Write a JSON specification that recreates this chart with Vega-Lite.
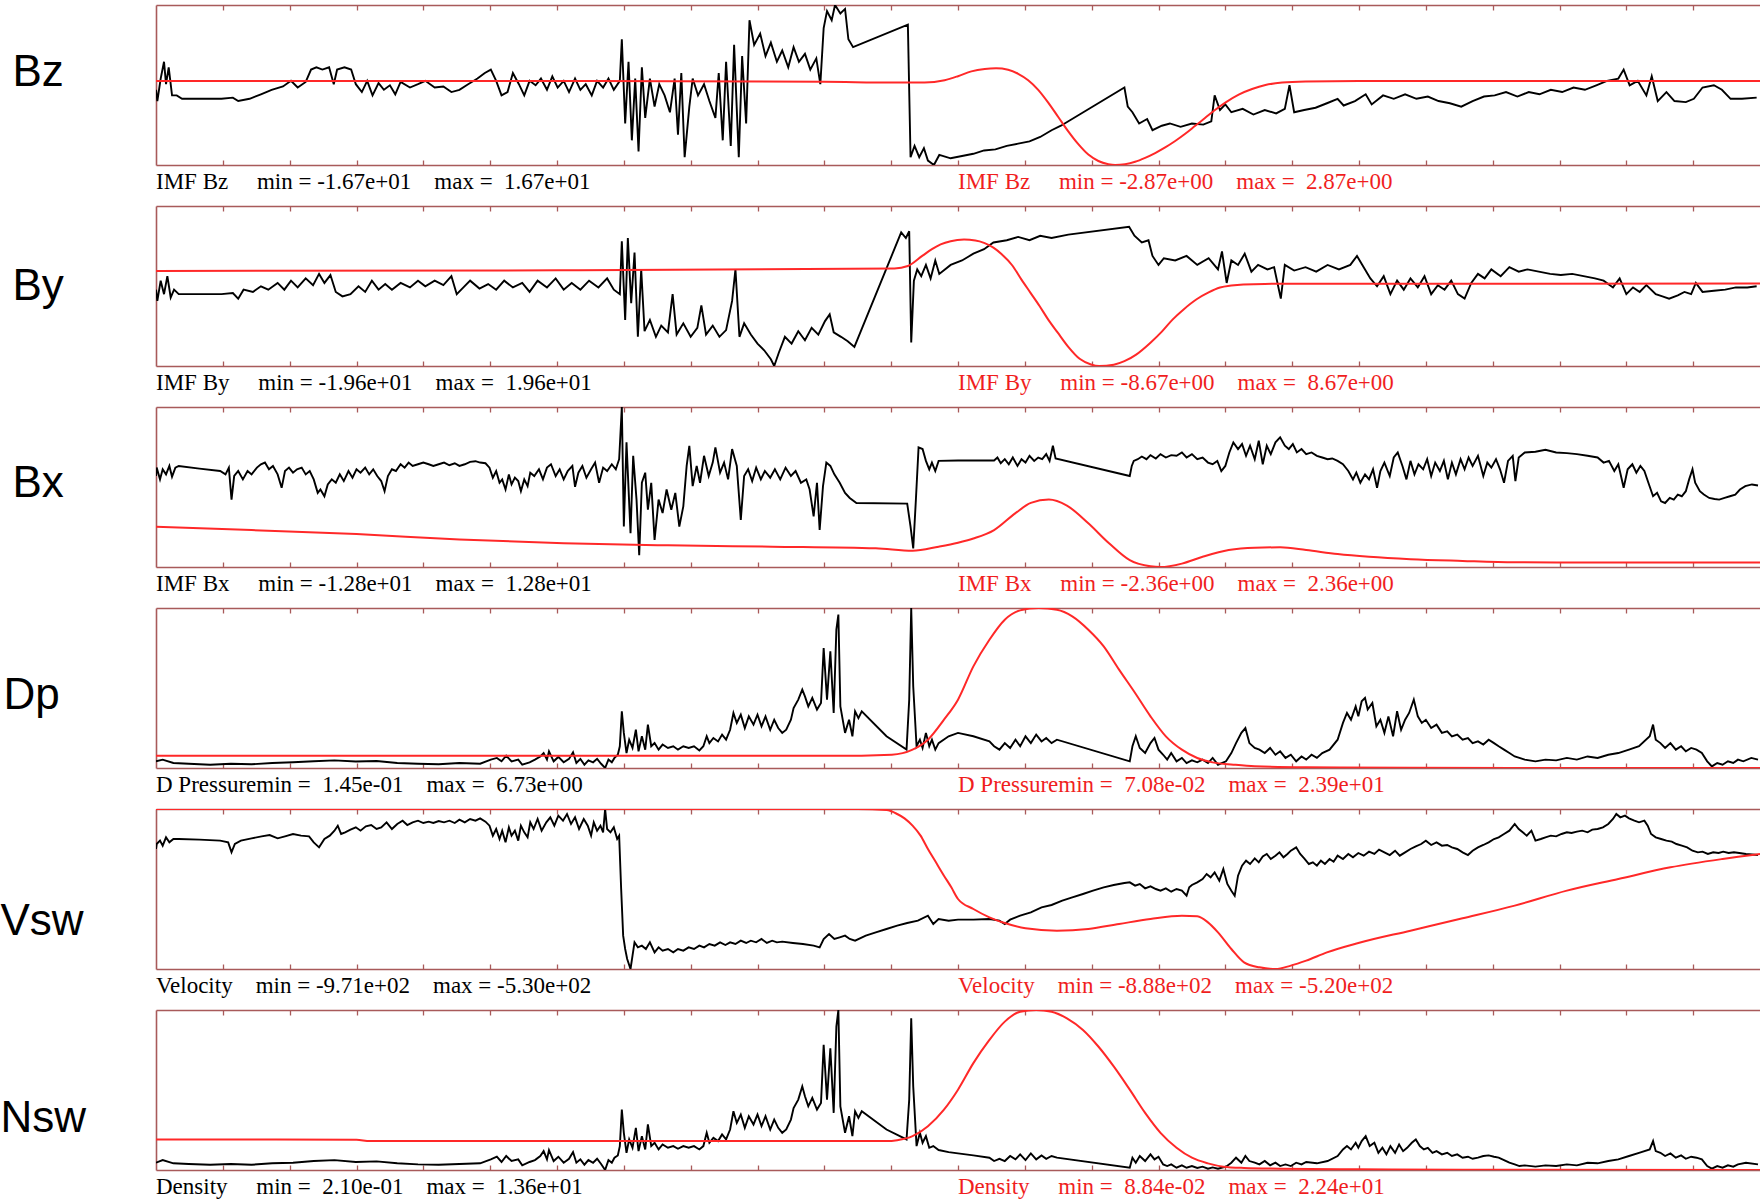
{
  "$schema": "https://vega.github.io/schema/vega-lite/v6.json",
  "background": "white",
  "padding": {"left": 0, "top": 4, "right": 0, "bottom": 0},
  "config": {
    "view": {"stroke": null},
    "axis": {
      "grid": false,
      "labels": false,
      "title": null,
      "domainColor": "#a85a5a",
      "domainWidth": 1.6,
      "tickColor": "#a85a5a",
      "tickWidth": 1.3,
      "tickSize": -5
    }
  },
  "datasets": {
    "captions": [
      {"panel":"Bz","series":"observed","hour":0,"label":"IMF Bz\u00a0\u00a0\u00a0\u00a0\u00a0min\u00a0=\u00a0-1.67e+01\u00a0\u00a0\u00a0\u00a0max\u00a0=\u00a0\u00a01.67e+01"},
      {"panel":"Bz","series":"model","hour":12,"label":"IMF Bz\u00a0\u00a0\u00a0\u00a0\u00a0min\u00a0=\u00a0-2.87e+00\u00a0\u00a0\u00a0\u00a0max\u00a0=\u00a0\u00a02.87e+00"},
      {"panel":"By","series":"observed","hour":0,"label":"IMF By\u00a0\u00a0\u00a0\u00a0\u00a0min\u00a0=\u00a0-1.96e+01\u00a0\u00a0\u00a0\u00a0max\u00a0=\u00a0\u00a01.96e+01"},
      {"panel":"By","series":"model","hour":12,"label":"IMF By\u00a0\u00a0\u00a0\u00a0\u00a0min\u00a0=\u00a0-8.67e+00\u00a0\u00a0\u00a0\u00a0max\u00a0=\u00a0\u00a08.67e+00"},
      {"panel":"Bx","series":"observed","hour":0,"label":"IMF Bx\u00a0\u00a0\u00a0\u00a0\u00a0min\u00a0=\u00a0-1.28e+01\u00a0\u00a0\u00a0\u00a0max\u00a0=\u00a0\u00a01.28e+01"},
      {"panel":"Bx","series":"model","hour":12,"label":"IMF Bx\u00a0\u00a0\u00a0\u00a0\u00a0min\u00a0=\u00a0-2.36e+00\u00a0\u00a0\u00a0\u00a0max\u00a0=\u00a0\u00a02.36e+00"},
      {"panel":"Dp","series":"observed","hour":0,"label":"D Pressuremin\u00a0=\u00a0\u00a01.45e-01\u00a0\u00a0\u00a0\u00a0max\u00a0=\u00a0\u00a06.73e+00"},
      {"panel":"Dp","series":"model","hour":12,"label":"D Pressuremin\u00a0=\u00a0\u00a07.08e-02\u00a0\u00a0\u00a0\u00a0max\u00a0=\u00a0\u00a02.39e+01"},
      {"panel":"Vsw","series":"observed","hour":0,"label":"Velocity\u00a0\u00a0\u00a0\u00a0min\u00a0=\u00a0-9.71e+02\u00a0\u00a0\u00a0\u00a0max\u00a0=\u00a0-5.30e+02"},
      {"panel":"Vsw","series":"model","hour":12,"label":"Velocity\u00a0\u00a0\u00a0\u00a0min\u00a0=\u00a0-8.88e+02\u00a0\u00a0\u00a0\u00a0max\u00a0=\u00a0-5.20e+02"},
      {"panel":"Nsw","series":"observed","hour":0,"label":"Density\u00a0\u00a0\u00a0\u00a0\u00a0min\u00a0=\u00a0\u00a02.10e-01\u00a0\u00a0\u00a0\u00a0max\u00a0=\u00a0\u00a01.36e+01"},
      {"panel":"Nsw","series":"model","hour":12,"label":"Density\u00a0\u00a0\u00a0\u00a0\u00a0min\u00a0=\u00a0\u00a08.84e-02\u00a0\u00a0\u00a0\u00a0max\u00a0=\u00a0\u00a02.24e+01"}
    ],
    "bz_obs": [
      {"hour":0,"value":-1.0},{"hour":0.02,"value":-3.35},{"hour":0.07,"value":1.34},{"hour":0.12,"value":4.86},{"hour":0.15,"value":0.17},{"hour":0.19,"value":3.69},{"hour":0.24,"value":-2.17},{"hour":0.31,"value":-2.17},{"hour":0.39,"value":-2.88},{"hour":0.64,"value":-2.88},{"hour":0.98,"value":-2.88},{"hour":1.15,"value":-2.64},{"hour":1.23,"value":-3.35},{"hour":1.40,"value":-2.88},{"hour":1.57,"value":-1.94},{"hour":1.73,"value":-1.0},{"hour":1.90,"value":-0.30},{"hour":2.02,"value":0.87},{"hour":2.12,"value":-0.53},{"hour":2.24,"value":0.64},{"hour":2.32,"value":3.22},{"hour":2.40,"value":3.69},{"hour":2.49,"value":3.22},{"hour":2.59,"value":3.69},{"hour":2.66,"value":0.17},{"hour":2.71,"value":3.22},{"hour":2.82,"value":3.69},{"hour":2.92,"value":3.22},{"hour":2.99,"value":0.17},{"hour":3.08,"value":-1.47},{"hour":3.16,"value":0.87},{"hour":3.24,"value":-2.17},{"hour":3.33,"value":0.40},{"hour":3.41,"value":-1.0},{"hour":3.50,"value":-0.06},{"hour":3.58,"value":-1.94},{"hour":3.66,"value":0.64},{"hour":3.80,"value":-0.53},{"hour":3.92,"value":0.17},{"hour":4.03,"value":0.87},{"hour":4.17,"value":-0.53},{"hour":4.30,"value":-0.30},{"hour":4.42,"value":-1.47},{"hour":4.54,"value":-1.0},{"hour":4.67,"value":0.17},{"hour":4.81,"value":1.34},{"hour":4.92,"value":2.51},{"hour":5.01,"value":3.22},{"hour":5.09,"value":0.87},{"hour":5.17,"value":-2.17},{"hour":5.26,"value":-1.47},{"hour":5.34,"value":2.51},{"hour":5.43,"value":0.17},{"hour":5.51,"value":-2.17},{"hour":5.59,"value":0.87},{"hour":5.68,"value":-0.06},{"hour":5.76,"value":1.34},{"hour":5.85,"value":-1.0},{"hour":5.93,"value":1.81},{"hour":6.01,"value":-0.53},{"hour":6.10,"value":0.87},{"hour":6.18,"value":-1.47},{"hour":6.27,"value":1.34},{"hour":6.35,"value":-1.0},{"hour":6.43,"value":0.17},{"hour":6.52,"value":-2.17},{"hour":6.60,"value":0.87},{"hour":6.69,"value":-0.53},{"hour":6.77,"value":1.34},{"hour":6.85,"value":-1.0},{"hour":6.94,"value":0.87},{"hour":6.97,"value":9.55},{"hour":7.02,"value":-8.03},{"hour":7.07,"value":4.86},{"hour":7.12,"value":-11.55},{"hour":7.17,"value":1.34},{"hour":7.22,"value":-13.89},{"hour":7.27,"value":3.69},{"hour":7.32,"value":-6.86},{"hour":7.39,"value":1.34},{"hour":7.46,"value":-4.52},{"hour":7.53,"value":0.17},{"hour":7.61,"value":-2.17},{"hour":7.69,"value":-5.69},{"hour":7.76,"value":1.34},{"hour":7.81,"value":-10.38},{"hour":7.86,"value":2.51},{"hour":7.91,"value":-15.07},{"hour":7.98,"value":-4.52},{"hour":8.03,"value":1.34},{"hour":8.11,"value":-2.17},{"hour":8.20,"value":0.17},{"hour":8.28,"value":-3.35},{"hour":8.37,"value":-6.86},{"hour":8.42,"value":2.51},{"hour":8.48,"value":-11.55},{"hour":8.53,"value":4.86},{"hour":8.60,"value":-12.72},{"hour":8.65,"value":8.37},{"hour":8.72,"value":-15.07},{"hour":8.77,"value":6.03},{"hour":8.83,"value":-8.03},{"hour":8.88,"value":13.53},{"hour":8.95,"value":8.37},{"hour":9.04,"value":10.72},{"hour":9.12,"value":6.03},{"hour":9.20,"value":8.84},{"hour":9.29,"value":4.86},{"hour":9.37,"value":7.20},{"hour":9.46,"value":3.69},{"hour":9.54,"value":7.90},{"hour":9.62,"value":4.86},{"hour":9.71,"value":6.50},{"hour":9.79,"value":3.22},{"hour":9.88,"value":5.56},{"hour":9.94,"value":0.17},{"hour":9.99,"value":11.89},{"hour":10.04,"value":15.41},{"hour":10.11,"value":13.53},{"hour":10.16,"value":16.7},{"hour":10.24,"value":14.94},{"hour":10.31,"value":15.88},{"hour":10.36,"value":9.55},{"hour":10.43,"value":7.90},{"hour":11.25,"value":12.59},{"hour":11.29,"value":-15.07},{"hour":11.35,"value":-12.72},{"hour":11.42,"value":-15.07},{"hour":11.49,"value":-13.19},{"hour":11.55,"value":-15.77},{"hour":11.64,"value":-16.7},{"hour":11.72,"value":-14.60},{"hour":11.89,"value":-15.30},{"hour":12.06,"value":-14.83},{"hour":12.23,"value":-14.36},{"hour":12.39,"value":-13.66},{"hour":12.56,"value":-13.43},{"hour":12.73,"value":-12.72},{"hour":12.90,"value":-12.25},{"hour":13.07,"value":-11.78},{"hour":13.23,"value":-10.85},{"hour":13.40,"value":-9.44},{"hour":13.54,"value":-8.50},{"hour":14.49,"value":-0.53},{"hour":14.54,"value":-4.52},{"hour":14.61,"value":-5.69},{"hour":14.71,"value":-8.03},{"hour":14.83,"value":-7.10},{"hour":14.91,"value":-9.44},{"hour":15.05,"value":-8.50},{"hour":15.17,"value":-8.03},{"hour":15.33,"value":-8.74},{"hour":15.50,"value":-8.03},{"hour":15.67,"value":-8.27},{"hour":15.79,"value":-7.57},{"hour":15.84,"value":-2.17},{"hour":15.92,"value":-5.22},{"hour":16.00,"value":-4.05},{"hour":16.09,"value":-5.69},{"hour":16.26,"value":-4.98},{"hour":16.42,"value":-6.16},{"hour":16.59,"value":-5.22},{"hour":16.76,"value":-5.92},{"hour":16.89,"value":-4.98},{"hour":16.96,"value":-0.06},{"hour":17.03,"value":-5.69},{"hour":17.18,"value":-5.22},{"hour":17.35,"value":-4.75},{"hour":17.52,"value":-3.81},{"hour":17.68,"value":-2.88},{"hour":17.77,"value":-4.28},{"hour":17.94,"value":-3.35},{"hour":18.10,"value":-1.94},{"hour":18.19,"value":-4.05},{"hour":18.36,"value":-2.17},{"hour":18.52,"value":-2.88},{"hour":18.69,"value":-1.94},{"hour":18.86,"value":-2.88},{"hour":19.03,"value":-2.41},{"hour":19.19,"value":-3.35},{"hour":19.36,"value":-3.81},{"hour":19.53,"value":-4.52},{"hour":19.70,"value":-3.35},{"hour":19.87,"value":-2.41},{"hour":20.03,"value":-2.17},{"hour":20.20,"value":-1.47},{"hour":20.37,"value":-2.41},{"hour":20.54,"value":-1.47},{"hour":20.70,"value":-1.94},{"hour":20.87,"value":-1.0},{"hour":21.04,"value":-1.47},{"hour":21.21,"value":-0.53},{"hour":21.38,"value":-1.0},{"hour":21.55,"value":-0.06},{"hour":21.71,"value":0.87},{"hour":21.88,"value":1.34},{"hour":21.96,"value":3.22},{"hour":22.05,"value":-0.06},{"hour":22.17,"value":0.87},{"hour":22.30,"value":-2.17},{"hour":22.38,"value":1.81},{"hour":22.47,"value":-3.35},{"hour":22.60,"value":-1.47},{"hour":22.72,"value":-3.35},{"hour":22.89,"value":-3.58},{"hour":23.01,"value":-2.88},{"hour":23.14,"value":-0.53},{"hour":23.31,"value":-0.06},{"hour":23.43,"value":-1.0},{"hour":23.56,"value":-2.88},{"hour":23.73,"value":-2.88},{"hour":23.95,"value":-2.64}
    ],
    "bz_model": [
      {"hour":0,"value":0.143},{"hour":5,"value":0.143},{"hour":10,"value":0.115},{"hour":11,"value":0.086},{"hour":11.5,"value":0.086},{"hour":11.8,"value":0.172},{"hour":12.0,"value":0.316},{"hour":12.2,"value":0.488},{"hour":12.4,"value":0.574},{"hour":12.57,"value":0.597},{"hour":12.75,"value":0.545},{"hour":12.9,"value":0.402},{"hour":13.05,"value":0.172},{"hour":13.2,"value":-0.172},{"hour":13.35,"value":-0.631},{"hour":13.5,"value":-1.148},{"hour":13.65,"value":-1.665},{"hour":13.8,"value":-2.124},{"hour":13.95,"value":-2.497},{"hour":14.1,"value":-2.726},{"hour":14.25,"value":-2.841},{"hour":14.35,"value":-2.87},{"hour":14.5,"value":-2.841},{"hour":14.65,"value":-2.755},{"hour":14.8,"value":-2.612},{"hour":14.95,"value":-2.44},{"hour":15.1,"value":-2.239},{"hour":15.25,"value":-2.009},{"hour":15.4,"value":-1.751},{"hour":15.55,"value":-1.464},{"hour":15.7,"value":-1.177},{"hour":15.85,"value":-0.89},{"hour":16.0,"value":-0.631},{"hour":16.2,"value":-0.344},{"hour":16.4,"value":-0.144},{"hour":16.6,"value":0.0},{"hour":16.85,"value":0.086},{"hour":17.2,"value":0.126},{"hour":18,"value":0.143},{"hour":24,"value":0.143}
    ],
    "by_obs": [
      {"hour":0,"value":-0.90},{"hour":0.02,"value":-3.65},{"hour":0.07,"value":1.31},{"hour":0.12,"value":-2.00},{"hour":0.17,"value":2.41},{"hour":0.22,"value":-2.82},{"hour":0.27,"value":-0.90},{"hour":0.34,"value":-2.00},{"hour":0.64,"value":-2.00},{"hour":0.98,"value":-2.00},{"hour":1.15,"value":-1.72},{"hour":1.23,"value":-3.10},{"hour":1.31,"value":-0.90},{"hour":1.45,"value":-1.45},{"hour":1.57,"value":-0.07},{"hour":1.68,"value":-0.90},{"hour":1.82,"value":0.75},{"hour":1.92,"value":-0.90},{"hour":2.02,"value":1.31},{"hour":2.12,"value":-0.35},{"hour":2.24,"value":1.86},{"hour":2.35,"value":0.20},{"hour":2.44,"value":2.96},{"hour":2.52,"value":0.75},{"hour":2.61,"value":2.68},{"hour":2.69,"value":-1.45},{"hour":2.79,"value":-2.55},{"hour":2.91,"value":-2.00},{"hour":3.03,"value":-0.07},{"hour":3.13,"value":-1.45},{"hour":3.23,"value":1.31},{"hour":3.33,"value":-0.90},{"hour":3.43,"value":0.48},{"hour":3.53,"value":-0.90},{"hour":3.66,"value":0.75},{"hour":3.80,"value":-0.35},{"hour":3.92,"value":1.31},{"hour":4.03,"value":-0.07},{"hour":4.17,"value":1.31},{"hour":4.30,"value":0.20},{"hour":4.42,"value":2.41},{"hour":4.50,"value":-2.00},{"hour":4.60,"value":-0.35},{"hour":4.70,"value":1.31},{"hour":4.84,"value":-0.62},{"hour":4.97,"value":0.48},{"hour":5.09,"value":-0.90},{"hour":5.21,"value":1.31},{"hour":5.34,"value":-0.35},{"hour":5.48,"value":0.75},{"hour":5.59,"value":-1.45},{"hour":5.71,"value":1.31},{"hour":5.85,"value":-0.35},{"hour":5.98,"value":1.86},{"hour":6.10,"value":-0.90},{"hour":6.22,"value":0.75},{"hour":6.35,"value":-0.90},{"hour":6.48,"value":1.31},{"hour":6.62,"value":-0.35},{"hour":6.75,"value":1.86},{"hour":6.85,"value":-0.90},{"hour":6.94,"value":-2.00},{"hour":6.97,"value":10.93},{"hour":7.02,"value":-8.32},{"hour":7.06,"value":11.76},{"hour":7.11,"value":-4.20},{"hour":7.16,"value":8.18},{"hour":7.21,"value":-12.45},{"hour":7.26,"value":4.06},{"hour":7.31,"value":-11.07},{"hour":7.39,"value":-8.32},{"hour":7.48,"value":-12.45},{"hour":7.56,"value":-9.70},{"hour":7.66,"value":-11.35},{"hour":7.73,"value":-2.00},{"hour":7.79,"value":-11.90},{"hour":7.89,"value":-9.15},{"hour":8.00,"value":-12.45},{"hour":8.10,"value":-10.25},{"hour":8.16,"value":-4.75},{"hour":8.23,"value":-11.90},{"hour":8.33,"value":-9.70},{"hour":8.43,"value":-12.45},{"hour":8.53,"value":-10.80},{"hour":8.62,"value":-3.65},{"hour":8.67,"value":4.06},{"hour":8.73,"value":-12.45},{"hour":8.80,"value":-9.15},{"hour":8.90,"value":-11.90},{"hour":9.00,"value":-14.10},{"hour":9.10,"value":-15.75},{"hour":9.20,"value":-17.95},{"hour":9.25,"value":-19.6},{"hour":9.32,"value":-16.30},{"hour":9.41,"value":-12.45},{"hour":9.51,"value":-14.10},{"hour":9.61,"value":-11.07},{"hour":9.71,"value":-13.28},{"hour":9.81,"value":-10.25},{"hour":9.91,"value":-11.90},{"hour":10.01,"value":-8.60},{"hour":10.08,"value":-6.95},{"hour":10.14,"value":-11.35},{"hour":10.25,"value":-12.45},{"hour":10.35,"value":-13.55},{"hour":10.45,"value":-14.93},{"hour":11.15,"value":13.13},{"hour":11.22,"value":11.76},{"hour":11.27,"value":13.41},{"hour":11.30,"value":-13.83},{"hour":11.34,"value":1.31},{"hour":11.39,"value":4.06},{"hour":11.45,"value":2.41},{"hour":11.52,"value":5.16},{"hour":11.59,"value":1.86},{"hour":11.66,"value":6.26},{"hour":11.72,"value":2.96},{"hour":11.89,"value":5.16},{"hour":12.06,"value":6.26},{"hour":12.23,"value":7.91},{"hour":12.39,"value":9.01},{"hour":12.53,"value":10.66},{"hour":12.73,"value":11.21},{"hour":12.90,"value":12.03},{"hour":13.07,"value":11.21},{"hour":13.23,"value":12.31},{"hour":13.40,"value":11.76},{"hour":13.65,"value":12.58},{"hour":14.56,"value":14.51},{"hour":14.64,"value":12.31},{"hour":14.75,"value":10.66},{"hour":14.85,"value":11.21},{"hour":14.91,"value":7.36},{"hour":15.00,"value":5.16},{"hour":15.08,"value":6.81},{"hour":15.25,"value":6.26},{"hour":15.42,"value":7.36},{"hour":15.58,"value":5.16},{"hour":15.75,"value":6.81},{"hour":15.89,"value":4.06},{"hour":15.95,"value":8.46},{"hour":16.02,"value":0.75},{"hour":16.09,"value":6.26},{"hour":16.19,"value":5.16},{"hour":16.29,"value":7.91},{"hour":16.39,"value":3.51},{"hour":16.49,"value":5.16},{"hour":16.63,"value":4.06},{"hour":16.73,"value":4.61},{"hour":16.83,"value":-3.10},{"hour":16.89,"value":5.16},{"hour":17.03,"value":3.78},{"hour":17.20,"value":4.61},{"hour":17.36,"value":3.51},{"hour":17.53,"value":5.16},{"hour":17.70,"value":4.06},{"hour":17.87,"value":5.16},{"hour":17.97,"value":7.36},{"hour":18.07,"value":4.61},{"hour":18.17,"value":1.86},{"hour":18.27,"value":-0.07},{"hour":18.37,"value":2.41},{"hour":18.47,"value":-2.00},{"hour":18.57,"value":1.31},{"hour":18.67,"value":-0.90},{"hour":18.77,"value":1.86},{"hour":18.88,"value":-0.35},{"hour":18.98,"value":2.41},{"hour":19.08,"value":-2.00},{"hour":19.18,"value":0.20},{"hour":19.28,"value":-0.90},{"hour":19.38,"value":1.31},{"hour":19.48,"value":-2.00},{"hour":19.58,"value":-3.10},{"hour":19.68,"value":0.75},{"hour":19.78,"value":2.96},{"hour":19.88,"value":1.86},{"hour":19.98,"value":4.06},{"hour":20.12,"value":2.41},{"hour":20.25,"value":4.61},{"hour":20.39,"value":3.51},{"hour":20.52,"value":4.06},{"hour":20.69,"value":3.51},{"hour":20.86,"value":2.96},{"hour":21.02,"value":2.68},{"hour":21.19,"value":2.96},{"hour":21.36,"value":2.41},{"hour":21.53,"value":1.86},{"hour":21.66,"value":1.31},{"hour":21.80,"value":-0.35},{"hour":21.90,"value":1.86},{"hour":22.00,"value":-2.00},{"hour":22.10,"value":-0.35},{"hour":22.20,"value":-1.45},{"hour":22.30,"value":0.20},{"hour":22.44,"value":-2.00},{"hour":22.54,"value":-2.55},{"hour":22.64,"value":-3.10},{"hour":22.77,"value":-2.27},{"hour":22.87,"value":-1.45},{"hour":22.97,"value":-2.00},{"hour":23.04,"value":0.75},{"hour":23.14,"value":-1.45},{"hour":23.31,"value":-1.17},{"hour":23.48,"value":-0.90},{"hour":23.64,"value":-0.35},{"hour":23.81,"value":-0.35},{"hour":23.95,"value":-0.07}
    ],
    "by_model": [
      {"hour":0,"value":1.63},{"hour":6.01,"value":1.70},{"hour":11.05,"value":1.91},{"hour":11.25,"value":2.17},{"hour":11.47,"value":3.29},{"hour":11.61,"value":3.99},{"hour":11.74,"value":4.51},{"hour":11.89,"value":4.86},{"hour":12.09,"value":5.03},{"hour":12.26,"value":4.94},{"hour":12.39,"value":4.68},{"hour":12.53,"value":4.16},{"hour":12.65,"value":3.47},{"hour":12.81,"value":2.25},{"hour":12.95,"value":0.69},{"hour":13.08,"value":-0.69},{"hour":13.22,"value":-2.17},{"hour":13.35,"value":-3.64},{"hour":13.49,"value":-5.03},{"hour":13.65,"value":-6.59},{"hour":13.82,"value":-7.89},{"hour":13.99,"value":-8.50},{"hour":14.11,"value":-8.67},{"hour":14.33,"value":-8.53},{"hour":14.49,"value":-8.15},{"hour":14.66,"value":-7.46},{"hour":14.88,"value":-6.14},{"hour":15.05,"value":-4.94},{"hour":15.21,"value":-3.64},{"hour":15.38,"value":-2.51},{"hour":15.57,"value":-1.44},{"hour":15.75,"value":-0.69},{"hour":15.92,"value":-0.17},{"hour":16.09,"value":0.05},{"hour":16.27,"value":0.17},{"hour":16.59,"value":0.23},{"hour":24,"value":0.26}
    ],
    "bx_obs": [
      {"hour":0,"value":1.76},{"hour":0.01,"value":3.10},{"hour":0.06,"value":1.22},{"hour":0.10,"value":2.83},{"hour":0.15,"value":2.02},{"hour":0.20,"value":3.37},{"hour":0.24,"value":1.65},{"hour":0.29,"value":3.10},{"hour":0.34,"value":3.37},{"hour":0.65,"value":2.94},{"hour":0.96,"value":2.56},{"hour":1.04,"value":2.02},{"hour":1.09,"value":3.10},{"hour":1.13,"value":-2.02},{"hour":1.17,"value":1.76},{"hour":1.23,"value":2.56},{"hour":1.30,"value":1.22},{"hour":1.37,"value":2.56},{"hour":1.43,"value":2.02},{"hour":1.51,"value":3.10},{"hour":1.57,"value":3.64},{"hour":1.63,"value":3.91},{"hour":1.69,"value":2.83},{"hour":1.75,"value":3.37},{"hour":1.82,"value":2.02},{"hour":1.88,"value":-0.13},{"hour":1.93,"value":2.56},{"hour":1.99,"value":3.10},{"hour":2.05,"value":2.29},{"hour":2.11,"value":2.83},{"hour":2.18,"value":3.10},{"hour":2.24,"value":2.02},{"hour":2.30,"value":2.56},{"hour":2.36,"value":1.22},{"hour":2.42,"value":-0.94},{"hour":2.46,"value":-0.40},{"hour":2.52,"value":-1.48},{"hour":2.57,"value":0.41},{"hour":2.63,"value":1.22},{"hour":2.69,"value":0.68},{"hour":2.75,"value":2.02},{"hour":2.81,"value":0.95},{"hour":2.88,"value":2.56},{"hour":2.94,"value":1.49},{"hour":3.00,"value":2.83},{"hour":3.06,"value":2.29},{"hour":3.13,"value":3.10},{"hour":3.19,"value":2.02},{"hour":3.25,"value":2.83},{"hour":3.31,"value":1.76},{"hour":3.37,"value":0.95},{"hour":3.42,"value":-0.67},{"hour":3.47,"value":1.76},{"hour":3.53,"value":2.83},{"hour":3.59,"value":2.56},{"hour":3.66,"value":3.64},{"hour":3.72,"value":3.10},{"hour":3.78,"value":3.91},{"hour":3.84,"value":3.37},{"hour":3.92,"value":3.64},{"hour":4.00,"value":3.91},{"hour":4.08,"value":3.64},{"hour":4.15,"value":3.37},{"hour":4.23,"value":3.64},{"hour":4.31,"value":3.91},{"hour":4.39,"value":3.48},{"hour":4.47,"value":3.80},{"hour":4.54,"value":3.37},{"hour":4.62,"value":3.64},{"hour":4.70,"value":4.02},{"hour":4.78,"value":4.13},{"hour":4.85,"value":3.91},{"hour":4.93,"value":3.80},{"hour":4.99,"value":3.10},{"hour":5.04,"value":1.49},{"hour":5.09,"value":2.56},{"hour":5.14,"value":0.68},{"hour":5.18,"value":1.22},{"hour":5.23,"value":-0.40},{"hour":5.28,"value":2.02},{"hour":5.32,"value":0.41},{"hour":5.37,"value":1.49},{"hour":5.42,"value":0.95},{"hour":5.46,"value":-0.67},{"hour":5.51,"value":1.22},{"hour":5.56,"value":0.14},{"hour":5.60,"value":2.29},{"hour":5.66,"value":1.76},{"hour":5.73,"value":2.83},{"hour":5.79,"value":1.22},{"hour":5.85,"value":3.10},{"hour":5.91,"value":3.64},{"hour":5.98,"value":1.76},{"hour":6.04,"value":2.83},{"hour":6.10,"value":1.22},{"hour":6.16,"value":2.56},{"hour":6.23,"value":3.37},{"hour":6.27,"value":0.03},{"hour":6.32,"value":2.29},{"hour":6.38,"value":3.37},{"hour":6.44,"value":1.49},{"hour":6.51,"value":2.83},{"hour":6.57,"value":3.91},{"hour":6.63,"value":0.68},{"hour":6.69,"value":3.10},{"hour":6.75,"value":2.56},{"hour":6.82,"value":3.64},{"hour":6.88,"value":2.83},{"hour":6.93,"value":4.45},{"hour":6.97,"value":12.8},{"hour":7.00,"value":-6.33},{"hour":7.04,"value":7.14},{"hour":7.10,"value":-7.41},{"hour":7.14,"value":4.99},{"hour":7.19,"value":-2.02},{"hour":7.23,"value":-10.91},{"hour":7.27,"value":0.68},{"hour":7.32,"value":2.29},{"hour":7.36,"value":-3.63},{"hour":7.41,"value":0.68},{"hour":7.46,"value":-8.48},{"hour":7.52,"value":-2.02},{"hour":7.58,"value":-4.17},{"hour":7.64,"value":-0.40},{"hour":7.71,"value":-3.63},{"hour":7.77,"value":-0.94},{"hour":7.83,"value":-6.33},{"hour":7.89,"value":-3.09},{"hour":7.94,"value":3.37},{"hour":7.98,"value":6.60},{"hour":8.03,"value":0.14},{"hour":8.09,"value":3.37},{"hour":8.14,"value":0.68},{"hour":8.20,"value":4.99},{"hour":8.27,"value":1.76},{"hour":8.33,"value":3.91},{"hour":8.37,"value":6.34},{"hour":8.44,"value":2.29},{"hour":8.50,"value":3.91},{"hour":8.56,"value":1.22},{"hour":8.62,"value":6.07},{"hour":8.69,"value":3.37},{"hour":8.75,"value":-5.25},{"hour":8.80,"value":1.76},{"hour":8.86,"value":2.83},{"hour":8.92,"value":0.95},{"hour":8.98,"value":3.10},{"hour":9.05,"value":1.22},{"hour":9.11,"value":2.56},{"hour":9.19,"value":1.49},{"hour":9.26,"value":2.83},{"hour":9.34,"value":1.22},{"hour":9.42,"value":3.10},{"hour":9.50,"value":1.76},{"hour":9.57,"value":2.56},{"hour":9.65,"value":0.68},{"hour":9.73,"value":1.22},{"hour":9.78,"value":-0.40},{"hour":9.84,"value":-4.71},{"hour":9.89,"value":0.68},{"hour":9.93,"value":-6.87},{"hour":9.98,"value":0.14},{"hour":10.03,"value":3.91},{"hour":10.09,"value":3.37},{"hour":10.15,"value":2.02},{"hour":10.23,"value":0.68},{"hour":10.31,"value":-0.94},{"hour":10.38,"value":-1.75},{"hour":10.48,"value":-2.56},{"hour":11.24,"value":-2.66},{"hour":11.29,"value":-6.33},{"hour":11.33,"value":-9.83},{"hour":11.37,"value":-2.02},{"hour":11.41,"value":6.34},{"hour":11.47,"value":6.07},{"hour":11.52,"value":4.18},{"hour":11.57,"value":2.83},{"hour":11.61,"value":3.91},{"hour":11.66,"value":2.56},{"hour":11.71,"value":4.18},{"hour":12.0,"value":4.23},{"hour":12.54,"value":4.23},{"hour":12.59,"value":4.72},{"hour":12.64,"value":3.80},{"hour":12.70,"value":4.45},{"hour":12.76,"value":3.64},{"hour":12.82,"value":4.72},{"hour":12.89,"value":3.37},{"hour":12.95,"value":4.45},{"hour":13.01,"value":3.91},{"hour":13.07,"value":4.99},{"hour":13.14,"value":4.18},{"hour":13.20,"value":4.72},{"hour":13.26,"value":4.45},{"hour":13.32,"value":5.26},{"hour":13.37,"value":4.18},{"hour":13.42,"value":6.60},{"hour":13.46,"value":4.56},{"hour":14.57,"value":1.76},{"hour":14.60,"value":3.37},{"hour":14.63,"value":4.18},{"hour":14.69,"value":4.45},{"hour":14.75,"value":4.88},{"hour":14.82,"value":4.45},{"hour":14.88,"value":5.10},{"hour":14.96,"value":4.56},{"hour":15.03,"value":5.26},{"hour":15.11,"value":4.72},{"hour":15.19,"value":5.10},{"hour":15.27,"value":4.99},{"hour":15.35,"value":5.53},{"hour":15.42,"value":4.72},{"hour":15.50,"value":5.26},{"hour":15.58,"value":4.45},{"hour":15.66,"value":4.72},{"hour":15.74,"value":3.91},{"hour":15.81,"value":3.64},{"hour":15.88,"value":4.18},{"hour":15.94,"value":2.56},{"hour":16.00,"value":3.37},{"hour":16.06,"value":5.53},{"hour":16.12,"value":7.14},{"hour":16.19,"value":6.07},{"hour":16.25,"value":6.87},{"hour":16.31,"value":4.99},{"hour":16.37,"value":6.60},{"hour":16.44,"value":4.45},{"hour":16.50,"value":7.41},{"hour":16.56,"value":3.64},{"hour":16.62,"value":6.60},{"hour":16.68,"value":5.26},{"hour":16.75,"value":7.14},{"hour":16.82,"value":7.95},{"hour":16.89,"value":6.60},{"hour":16.95,"value":6.07},{"hour":17.01,"value":6.87},{"hour":17.07,"value":5.53},{"hour":17.14,"value":6.07},{"hour":17.21,"value":5.26},{"hour":17.29,"value":5.53},{"hour":17.37,"value":4.99},{"hour":17.45,"value":4.72},{"hour":17.53,"value":4.45},{"hour":17.60,"value":4.56},{"hour":17.68,"value":4.18},{"hour":17.76,"value":3.64},{"hour":17.84,"value":2.56},{"hour":17.91,"value":1.22},{"hour":17.96,"value":2.29},{"hour":18.02,"value":0.68},{"hour":18.09,"value":2.02},{"hour":18.15,"value":1.22},{"hour":18.21,"value":2.83},{"hour":18.27,"value":-0.13},{"hour":18.32,"value":2.56},{"hour":18.38,"value":3.91},{"hour":18.46,"value":1.76},{"hour":18.52,"value":4.72},{"hour":18.58,"value":5.53},{"hour":18.65,"value":3.37},{"hour":18.71,"value":1.22},{"hour":18.77,"value":4.18},{"hour":18.83,"value":2.02},{"hour":18.89,"value":3.64},{"hour":18.96,"value":2.83},{"hour":19.02,"value":4.45},{"hour":19.08,"value":1.76},{"hour":19.14,"value":3.91},{"hour":19.21,"value":2.56},{"hour":19.27,"value":4.18},{"hour":19.33,"value":1.22},{"hour":19.39,"value":3.91},{"hour":19.45,"value":2.02},{"hour":19.52,"value":4.45},{"hour":19.58,"value":2.83},{"hour":19.64,"value":4.72},{"hour":19.70,"value":3.37},{"hour":19.78,"value":4.99},{"hour":19.86,"value":1.76},{"hour":19.92,"value":3.91},{"hour":19.98,"value":3.10},{"hour":20.05,"value":4.45},{"hour":20.11,"value":2.83},{"hour":20.17,"value":0.68},{"hour":20.23,"value":4.18},{"hour":20.30,"value":4.99},{"hour":20.34,"value":0.95},{"hour":20.39,"value":4.72},{"hour":20.48,"value":5.53},{"hour":20.64,"value":5.64},{"hour":20.79,"value":5.96},{"hour":20.95,"value":5.53},{"hour":21.11,"value":5.42},{"hour":21.26,"value":5.26},{"hour":21.42,"value":4.99},{"hour":21.57,"value":4.72},{"hour":21.66,"value":3.91},{"hour":21.74,"value":4.18},{"hour":21.82,"value":2.56},{"hour":21.88,"value":3.64},{"hour":21.96,"value":-0.13},{"hour":22.02,"value":2.83},{"hour":22.09,"value":3.64},{"hour":22.15,"value":2.29},{"hour":22.21,"value":3.37},{"hour":22.27,"value":2.56},{"hour":22.33,"value":0.68},{"hour":22.40,"value":-1.48},{"hour":22.46,"value":-0.94},{"hour":22.52,"value":-2.29},{"hour":22.58,"value":-2.56},{"hour":22.65,"value":-1.75},{"hour":22.71,"value":-2.02},{"hour":22.77,"value":-1.21},{"hour":22.83,"value":-1.48},{"hour":22.89,"value":-0.67},{"hour":22.94,"value":1.22},{"hour":22.99,"value":2.83},{"hour":23.03,"value":0.68},{"hour":23.10,"value":-0.67},{"hour":23.16,"value":-1.21},{"hour":23.24,"value":-1.75},{"hour":23.32,"value":-1.91},{"hour":23.39,"value":-2.02},{"hour":23.47,"value":-1.75},{"hour":23.55,"value":-1.48},{"hour":23.63,"value":-1.21},{"hour":23.70,"value":-0.40},{"hour":23.78,"value":0.14},{"hour":23.88,"value":0.41},{"hour":23.97,"value":0.25}
    ],
    "bx_model": [
      {"hour":0,"value":-1.17},{"hour":1.43,"value":-1.27},{"hour":3.0,"value":-1.39},{"hour":4.54,"value":-1.55},{"hour":6.10,"value":-1.66},{"hour":7.66,"value":-1.72},{"hour":9.22,"value":-1.76},{"hour":10.77,"value":-1.81},{"hour":11.32,"value":-1.88},{"hour":11.71,"value":-1.76},{"hour":12.0,"value":-1.645},{"hour":12.23,"value":-1.52},{"hour":12.54,"value":-1.27},{"hour":12.86,"value":-0.77},{"hour":13.09,"value":-0.47},{"hour":13.36,"value":-0.37},{"hour":13.63,"value":-0.55},{"hour":13.95,"value":-1.07},{"hour":14.26,"value":-1.66},{"hour":14.57,"value":-2.16},{"hour":14.88,"value":-2.34},{"hour":15.03,"value":-2.36},{"hour":15.35,"value":-2.26},{"hour":15.66,"value":-2.06},{"hour":16.05,"value":-1.86},{"hour":16.44,"value":-1.79},{"hour":16.82,"value":-1.78},{"hour":17.21,"value":-1.86},{"hour":17.68,"value":-1.98},{"hour":18.15,"value":-2.06},{"hour":18.77,"value":-2.13},{"hour":19.55,"value":-2.18},{"hour":20.33,"value":-2.22},{"hour":21.11,"value":-2.23},{"hour":24,"value":-2.23}
    ],
    "dp_obs": [
      {"hour":0,"value":0.42},{"hour":0.10,"value":0.49},{"hour":0.26,"value":0.35},{"hour":0.49,"value":0.32},{"hour":0.81,"value":0.28},{"hour":1.12,"value":0.32},{"hour":1.43,"value":0.30},{"hour":1.74,"value":0.35},{"hour":2.05,"value":0.38},{"hour":2.36,"value":0.42},{"hour":2.67,"value":0.46},{"hour":2.99,"value":0.41},{"hour":3.30,"value":0.43},{"hour":3.61,"value":0.35},{"hour":3.92,"value":0.32},{"hour":4.23,"value":0.30},{"hour":4.54,"value":0.35},{"hour":4.85,"value":0.32},{"hour":5.01,"value":0.49},{"hour":5.10,"value":0.56},{"hour":5.17,"value":0.42},{"hour":5.24,"value":0.65},{"hour":5.32,"value":0.42},{"hour":5.42,"value":0.49},{"hour":5.48,"value":0.28},{"hour":5.59,"value":0.38},{"hour":5.67,"value":0.49},{"hour":5.75,"value":0.62},{"hour":5.80,"value":0.76},{"hour":5.85,"value":0.49},{"hour":5.88,"value":0.83},{"hour":5.95,"value":0.42},{"hour":6.02,"value":0.60},{"hour":6.10,"value":0.38},{"hour":6.18,"value":0.52},{"hour":6.24,"value":0.79},{"hour":6.29,"value":0.35},{"hour":6.35,"value":0.52},{"hour":6.41,"value":0.28},{"hour":6.47,"value":0.46},{"hour":6.54,"value":0.38},{"hour":6.60,"value":0.52},{"hour":6.66,"value":0.32},{"hour":6.72,"value":0.145},{"hour":6.77,"value":0.49},{"hour":6.82,"value":0.38},{"hour":6.86,"value":0.56},{"hour":6.91,"value":0.69},{"hour":6.94,"value":1.04},{"hour":6.97,"value":2.48},{"hour":7.00,"value":1.59},{"hour":7.04,"value":0.76},{"hour":7.08,"value":1.31},{"hour":7.13,"value":0.97},{"hour":7.18,"value":1.72},{"hour":7.22,"value":0.83},{"hour":7.27,"value":1.45},{"hour":7.32,"value":0.90},{"hour":7.36,"value":1.93},{"hour":7.41,"value":1.04},{"hour":7.46,"value":1.17},{"hour":7.52,"value":0.90},{"hour":7.58,"value":1.11},{"hour":7.66,"value":0.97},{"hour":7.74,"value":1.04},{"hour":7.81,"value":0.90},{"hour":7.89,"value":1.04},{"hour":7.97,"value":0.97},{"hour":8.05,"value":1.04},{"hour":8.13,"value":0.87},{"hour":8.19,"value":1.04},{"hour":8.24,"value":1.45},{"hour":8.28,"value":1.17},{"hour":8.34,"value":1.38},{"hour":8.41,"value":1.24},{"hour":8.47,"value":1.52},{"hour":8.53,"value":1.31},{"hour":8.59,"value":1.72},{"hour":8.64,"value":2.41},{"hour":8.69,"value":2.00},{"hour":8.75,"value":2.34},{"hour":8.81,"value":1.79},{"hour":8.87,"value":2.27},{"hour":8.94,"value":1.93},{"hour":9.00,"value":2.34},{"hour":9.06,"value":1.86},{"hour":9.12,"value":2.27},{"hour":9.19,"value":1.72},{"hour":9.25,"value":2.13},{"hour":9.31,"value":1.79},{"hour":9.37,"value":1.59},{"hour":9.43,"value":1.72},{"hour":9.50,"value":2.13},{"hour":9.54,"value":2.61},{"hour":9.61,"value":2.96},{"hour":9.67,"value":3.37},{"hour":9.71,"value":3.09},{"hour":9.76,"value":2.68},{"hour":9.82,"value":3.03},{"hour":9.89,"value":2.55},{"hour":9.95,"value":2.82},{"hour":9.99,"value":5.08},{"hour":10.04,"value":2.96},{"hour":10.09,"value":4.95},{"hour":10.14,"value":2.41},{"hour":10.18,"value":5.84},{"hour":10.21,"value":6.46},{"hour":10.24,"value":2.68},{"hour":10.31,"value":1.59},{"hour":10.37,"value":2.13},{"hour":10.42,"value":1.45},{"hour":10.46,"value":2.48},{"hour":10.51,"value":2.20},{"hour":10.56,"value":2.48},{"hour":10.93,"value":1.45},{"hour":11.23,"value":0.90},{"hour":11.27,"value":2.96},{"hour":11.30,"value":6.73},{"hour":11.33,"value":3.51},{"hour":11.38,"value":1.04},{"hour":11.43,"value":1.31},{"hour":11.47,"value":0.97},{"hour":11.52,"value":1.59},{"hour":11.57,"value":1.04},{"hour":11.61,"value":1.31},{"hour":11.66,"value":0.90},{"hour":11.71,"value":1.17},{"hour":11.86,"value":1.45},{"hour":12.0,"value":1.59},{"hour":12.23,"value":1.45},{"hour":12.47,"value":1.24},{"hour":12.54,"value":1.04},{"hour":12.62,"value":0.90},{"hour":12.70,"value":1.17},{"hour":12.78,"value":0.97},{"hour":12.86,"value":1.31},{"hour":12.93,"value":1.04},{"hour":13.01,"value":1.45},{"hour":13.09,"value":1.17},{"hour":13.17,"value":1.52},{"hour":13.25,"value":1.24},{"hour":13.32,"value":1.38},{"hour":13.40,"value":1.17},{"hour":13.48,"value":1.31},{"hour":14.57,"value":0.42},{"hour":14.61,"value":1.04},{"hour":14.66,"value":1.45},{"hour":14.72,"value":0.97},{"hour":14.80,"value":0.76},{"hour":14.88,"value":1.17},{"hour":14.94,"value":1.38},{"hour":15.00,"value":0.90},{"hour":15.07,"value":0.69},{"hour":15.13,"value":0.49},{"hour":15.19,"value":0.76},{"hour":15.27,"value":0.42},{"hour":15.35,"value":0.56},{"hour":15.42,"value":0.35},{"hour":15.50,"value":0.46},{"hour":15.58,"value":0.38},{"hour":15.66,"value":0.49},{"hour":15.74,"value":0.35},{"hour":15.81,"value":0.56},{"hour":15.89,"value":0.28},{"hour":16.01,"value":0.42},{"hour":16.09,"value":0.76},{"hour":16.16,"value":1.17},{"hour":16.24,"value":1.59},{"hour":16.30,"value":1.79},{"hour":16.36,"value":1.17},{"hour":16.44,"value":0.97},{"hour":16.51,"value":0.90},{"hour":16.59,"value":0.76},{"hour":16.67,"value":0.97},{"hour":16.75,"value":0.69},{"hour":16.82,"value":0.83},{"hour":16.90,"value":0.56},{"hour":16.98,"value":0.69},{"hour":17.06,"value":0.42},{"hour":17.14,"value":0.62},{"hour":17.21,"value":0.49},{"hour":17.29,"value":0.69},{"hour":17.37,"value":0.56},{"hour":17.45,"value":0.76},{"hour":17.56,"value":0.90},{"hour":17.68,"value":1.31},{"hour":17.76,"value":2.00},{"hour":17.82,"value":2.41},{"hour":17.88,"value":2.13},{"hour":17.95,"value":2.68},{"hour":17.99,"value":2.27},{"hour":18.04,"value":2.89},{"hour":18.09,"value":3.03},{"hour":18.13,"value":2.55},{"hour":18.20,"value":2.82},{"hour":18.26,"value":1.86},{"hour":18.32,"value":2.13},{"hour":18.38,"value":1.59},{"hour":18.44,"value":2.27},{"hour":18.51,"value":1.45},{"hour":18.57,"value":2.48},{"hour":18.63,"value":1.72},{"hour":18.69,"value":2.13},{"hour":18.75,"value":2.41},{"hour":18.82,"value":2.96},{"hour":18.88,"value":2.27},{"hour":18.94,"value":2.00},{"hour":19.00,"value":2.13},{"hour":19.08,"value":1.79},{"hour":19.16,"value":1.93},{"hour":19.24,"value":1.59},{"hour":19.32,"value":1.65},{"hour":19.39,"value":1.45},{"hour":19.47,"value":1.52},{"hour":19.55,"value":1.31},{"hour":19.63,"value":1.38},{"hour":19.70,"value":1.17},{"hour":19.78,"value":1.24},{"hour":19.86,"value":1.11},{"hour":19.94,"value":1.31},{"hour":20.02,"value":1.17},{"hour":20.09,"value":1.04},{"hour":20.17,"value":0.90},{"hour":20.25,"value":0.76},{"hour":20.33,"value":0.62},{"hour":20.40,"value":0.56},{"hour":20.48,"value":0.49},{"hour":20.64,"value":0.42},{"hour":20.79,"value":0.49},{"hour":20.95,"value":0.46},{"hour":21.11,"value":0.56},{"hour":21.26,"value":0.49},{"hour":21.42,"value":0.62},{"hour":21.57,"value":0.56},{"hour":21.73,"value":0.69},{"hour":21.88,"value":0.76},{"hour":22.04,"value":0.90},{"hour":22.19,"value":1.04},{"hour":22.35,"value":1.45},{"hour":22.40,"value":1.93},{"hour":22.44,"value":1.31},{"hour":22.51,"value":1.17},{"hour":22.58,"value":0.97},{"hour":22.66,"value":1.17},{"hour":22.74,"value":0.90},{"hour":22.82,"value":1.04},{"hour":22.89,"value":0.83},{"hour":22.97,"value":0.97},{"hour":23.05,"value":0.90},{"hour":23.13,"value":0.76},{"hour":23.21,"value":0.42},{"hour":23.28,"value":0.21},{"hour":23.36,"value":0.35},{"hour":23.44,"value":0.28},{"hour":23.52,"value":0.42},{"hour":23.60,"value":0.35},{"hour":23.67,"value":0.49},{"hour":23.75,"value":0.42},{"hour":23.87,"value":0.56},{"hour":23.97,"value":0.49}
    ],
    "dp_model": [
      {"hour":0,"value":1.91},{"hour":6,"value":1.91},{"hour":10.1,"value":1.88},{"hour":11.01,"value":2.06},{"hour":11.32,"value":2.80},{"hour":11.55,"value":4.29},{"hour":11.79,"value":7.27},{"hour":12.0,"value":10.25},{"hour":12.23,"value":15.21},{"hour":12.47,"value":19.18},{"hour":12.70,"value":22.16},{"hour":12.93,"value":23.55},{"hour":13.21,"value":23.9},{"hour":13.48,"value":23.65},{"hour":13.71,"value":22.66},{"hour":13.95,"value":20.67},{"hour":14.18,"value":18.19},{"hour":14.41,"value":14.72},{"hour":14.65,"value":11.24},{"hour":14.88,"value":7.77},{"hour":15.11,"value":4.79},{"hour":15.35,"value":2.80},{"hour":15.58,"value":1.56},{"hour":15.81,"value":0.91},{"hour":16.12,"value":0.57},{"hour":16.44,"value":0.32},{"hour":17.21,"value":0.17},{"hour":18.77,"value":0.12},{"hour":20.33,"value":0.0708},{"hour":24,"value":0.0708}
    ],
    "vsw_obs": [
      {"hour":0,"value":-640.2},{"hour":0.01,"value":-626.5},{"hour":0.06,"value":-617.3},{"hour":0.10,"value":-631.1},{"hour":0.15,"value":-608.1},{"hour":0.20,"value":-621.9},{"hour":0.26,"value":-612.7},{"hour":0.34,"value":-612.7},{"hour":0.65,"value":-614.5},{"hour":0.96,"value":-617.3},{"hour":1.08,"value":-621.9},{"hour":1.13,"value":-649.4},{"hour":1.18,"value":-626.5},{"hour":1.27,"value":-617.3},{"hour":1.43,"value":-610.9},{"hour":1.58,"value":-605.3},{"hour":1.70,"value":-601.7},{"hour":1.82,"value":-610.9},{"hour":1.93,"value":-605.3},{"hour":2.05,"value":-598.9},{"hour":2.17,"value":-603.5},{"hour":2.29,"value":-605.3},{"hour":2.36,"value":-621.9},{"hour":2.44,"value":-635.7},{"hour":2.52,"value":-612.7},{"hour":2.60,"value":-603.5},{"hour":2.67,"value":-589.7},{"hour":2.72,"value":-575.9},{"hour":2.77,"value":-598.9},{"hour":2.83,"value":-594.3},{"hour":2.91,"value":-587.0},{"hour":2.99,"value":-580.5},{"hour":3.06,"value":-589.7},{"hour":3.14,"value":-577.8},{"hour":3.22,"value":-574.1},{"hour":3.30,"value":-585.1},{"hour":3.37,"value":-580.5},{"hour":3.45,"value":-566.8},{"hour":3.53,"value":-585.1},{"hour":3.61,"value":-571.3},{"hour":3.69,"value":-562.2},{"hour":3.76,"value":-574.1},{"hour":3.84,"value":-566.8},{"hour":3.92,"value":-562.2},{"hour":4.00,"value":-568.6},{"hour":4.08,"value":-564.9},{"hour":4.15,"value":-568.6},{"hour":4.23,"value":-563.1},{"hour":4.31,"value":-566.8},{"hour":4.39,"value":-562.2},{"hour":4.47,"value":-568.6},{"hour":4.54,"value":-559.4},{"hour":4.62,"value":-566.8},{"hour":4.70,"value":-557.6},{"hour":4.78,"value":-562.2},{"hour":4.85,"value":-555.7},{"hour":4.93,"value":-564.9},{"hour":4.99,"value":-575.9},{"hour":5.04,"value":-603.5},{"hour":5.09,"value":-585.1},{"hour":5.14,"value":-612.7},{"hour":5.18,"value":-589.7},{"hour":5.23,"value":-621.9},{"hour":5.28,"value":-580.5},{"hour":5.32,"value":-603.5},{"hour":5.37,"value":-589.7},{"hour":5.42,"value":-617.3},{"hour":5.46,"value":-575.9},{"hour":5.51,"value":-594.3},{"hour":5.56,"value":-608.1},{"hour":5.60,"value":-566.8},{"hour":5.65,"value":-585.1},{"hour":5.71,"value":-557.6},{"hour":5.77,"value":-589.7},{"hour":5.84,"value":-566.8},{"hour":5.90,"value":-553.0},{"hour":5.96,"value":-575.9},{"hour":6.02,"value":-548.4},{"hour":6.09,"value":-562.2},{"hour":6.15,"value":-543.8},{"hour":6.21,"value":-571.3},{"hour":6.27,"value":-553.0},{"hour":6.33,"value":-585.1},{"hour":6.40,"value":-557.6},{"hour":6.46,"value":-575.9},{"hour":6.51,"value":-603.5},{"hour":6.55,"value":-566.8},{"hour":6.60,"value":-589.7},{"hour":6.65,"value":-575.9},{"hour":6.69,"value":-594.3},{"hour":6.72,"value":-530.0},{"hour":6.75,"value":-585.1},{"hour":6.80,"value":-594.3},{"hour":6.85,"value":-580.5},{"hour":6.90,"value":-612.7},{"hour":6.93,"value":-603.5},{"hour":6.96,"value":-750.5},{"hour":6.99,"value":-879.1},{"hour":7.02,"value":-915.9},{"hour":7.05,"value":-943.4},{"hour":7.10,"value":-971.0},{"hour":7.13,"value":-934.3},{"hour":7.16,"value":-897.5},{"hour":7.21,"value":-911.3},{"hour":7.27,"value":-906.7},{"hour":7.33,"value":-915.9},{"hour":7.39,"value":-897.5},{"hour":7.46,"value":-925.1},{"hour":7.52,"value":-911.3},{"hour":7.58,"value":-920.5},{"hour":7.66,"value":-915.9},{"hour":7.74,"value":-925.1},{"hour":7.81,"value":-915.9},{"hour":7.89,"value":-920.5},{"hour":7.97,"value":-911.3},{"hour":8.05,"value":-915.9},{"hour":8.13,"value":-906.7},{"hour":8.20,"value":-911.3},{"hour":8.28,"value":-902.1},{"hour":8.36,"value":-906.7},{"hour":8.44,"value":-897.5},{"hour":8.52,"value":-904.9},{"hour":8.59,"value":-897.5},{"hour":8.67,"value":-902.1},{"hour":8.75,"value":-892.9},{"hour":8.83,"value":-899.3},{"hour":8.90,"value":-892.9},{"hour":8.98,"value":-897.5},{"hour":9.06,"value":-888.3},{"hour":9.14,"value":-899.3},{"hour":9.22,"value":-892.9},{"hour":9.29,"value":-897.5},{"hour":9.37,"value":-895.7},{"hour":9.53,"value":-899.3},{"hour":9.68,"value":-902.1},{"hour":9.84,"value":-906.7},{"hour":9.93,"value":-911.3},{"hour":9.99,"value":-888.3},{"hour":10.07,"value":-874.5},{"hour":10.15,"value":-888.3},{"hour":10.23,"value":-883.7},{"hour":10.31,"value":-879.1},{"hour":10.38,"value":-888.3},{"hour":10.46,"value":-892.9},{"hour":10.62,"value":-879.1},{"hour":10.77,"value":-869.9},{"hour":10.93,"value":-860.8},{"hour":11.09,"value":-851.6},{"hour":11.24,"value":-844.2},{"hour":11.40,"value":-837.8},{"hour":11.55,"value":-824.0},{"hour":11.63,"value":-847.0},{"hour":11.71,"value":-833.2},{"hour":11.86,"value":-837.8},{"hour":12.0,"value":-835.0},{"hour":12.23,"value":-835.0},{"hour":12.47,"value":-833.2},{"hour":12.62,"value":-837.8},{"hour":12.70,"value":-847.0},{"hour":12.78,"value":-835.0},{"hour":12.93,"value":-824.0},{"hour":13.09,"value":-814.8},{"hour":13.25,"value":-801.0},{"hour":13.40,"value":-794.6},{"hour":13.56,"value":-782.7},{"hour":13.71,"value":-773.5},{"hour":13.87,"value":-764.3},{"hour":14.02,"value":-755.1},{"hour":14.18,"value":-745.9},{"hour":14.33,"value":-739.5},{"hour":14.49,"value":-734.0},{"hour":14.57,"value":-732.1},{"hour":14.65,"value":-741.3},{"hour":14.72,"value":-736.7},{"hour":14.80,"value":-748.7},{"hour":14.88,"value":-743.1},{"hour":14.96,"value":-750.5},{"hour":15.03,"value":-755.1},{"hour":15.11,"value":-748.7},{"hour":15.19,"value":-757.9},{"hour":15.27,"value":-750.5},{"hour":15.35,"value":-755.1},{"hour":15.42,"value":-768.9},{"hour":15.46,"value":-745.9},{"hour":15.50,"value":-739.5},{"hour":15.58,"value":-732.1},{"hour":15.66,"value":-722.9},{"hour":15.72,"value":-709.2},{"hour":15.78,"value":-718.3},{"hour":15.84,"value":-704.6},{"hour":15.91,"value":-727.5},{"hour":15.97,"value":-695.4},{"hour":16.03,"value":-736.7},{"hour":16.09,"value":-755.1},{"hour":16.14,"value":-768.9},{"hour":16.19,"value":-713.8},{"hour":16.25,"value":-686.2},{"hour":16.31,"value":-672.4},{"hour":16.37,"value":-681.6},{"hour":16.44,"value":-666.0},{"hour":16.50,"value":-677.0},{"hour":16.56,"value":-660.5},{"hour":16.62,"value":-654.0},{"hour":16.68,"value":-667.8},{"hour":16.75,"value":-658.6},{"hour":16.81,"value":-649.4},{"hour":16.87,"value":-663.2},{"hour":16.93,"value":-654.0},{"hour":16.98,"value":-644.9},{"hour":17.06,"value":-635.7},{"hour":17.12,"value":-654.0},{"hour":17.18,"value":-666.0},{"hour":17.25,"value":-681.6},{"hour":17.31,"value":-677.0},{"hour":17.37,"value":-686.2},{"hour":17.43,"value":-672.4},{"hour":17.49,"value":-681.6},{"hour":17.56,"value":-667.8},{"hour":17.62,"value":-675.2},{"hour":17.68,"value":-658.6},{"hour":17.76,"value":-667.8},{"hour":17.84,"value":-654.0},{"hour":17.91,"value":-663.2},{"hour":17.99,"value":-651.3},{"hour":18.07,"value":-658.6},{"hour":18.15,"value":-647.6},{"hour":18.23,"value":-654.0},{"hour":18.30,"value":-642.1},{"hour":18.38,"value":-649.4},{"hour":18.46,"value":-656.8},{"hour":18.54,"value":-644.9},{"hour":18.61,"value":-658.6},{"hour":18.69,"value":-649.4},{"hour":18.77,"value":-640.2},{"hour":18.85,"value":-632.9},{"hour":18.93,"value":-626.5},{"hour":19.00,"value":-617.3},{"hour":19.08,"value":-629.2},{"hour":19.16,"value":-621.9},{"hour":19.24,"value":-631.1},{"hour":19.32,"value":-629.2},{"hour":19.39,"value":-635.7},{"hour":19.47,"value":-640.2},{"hour":19.55,"value":-649.4},{"hour":19.63,"value":-656.8},{"hour":19.70,"value":-644.9},{"hour":19.78,"value":-635.7},{"hour":19.86,"value":-629.2},{"hour":19.94,"value":-621.9},{"hour":20.02,"value":-612.7},{"hour":20.09,"value":-608.1},{"hour":20.17,"value":-598.9},{"hour":20.25,"value":-589.7},{"hour":20.33,"value":-571.3},{"hour":20.39,"value":-585.1},{"hour":20.45,"value":-594.3},{"hour":20.51,"value":-603.5},{"hour":20.58,"value":-589.7},{"hour":20.64,"value":-617.3},{"hour":20.72,"value":-612.7},{"hour":20.79,"value":-608.1},{"hour":20.87,"value":-603.5},{"hour":20.95,"value":-605.3},{"hour":21.03,"value":-598.9},{"hour":21.11,"value":-594.3},{"hour":21.18,"value":-596.1},{"hour":21.26,"value":-592.5},{"hour":21.34,"value":-589.7},{"hour":21.42,"value":-594.3},{"hour":21.49,"value":-587.0},{"hour":21.57,"value":-585.1},{"hour":21.65,"value":-580.5},{"hour":21.73,"value":-571.3},{"hour":21.80,"value":-557.6},{"hour":21.85,"value":-543.8},{"hour":21.91,"value":-553.0},{"hour":21.98,"value":-548.4},{"hour":22.04,"value":-555.7},{"hour":22.12,"value":-562.2},{"hour":22.19,"value":-566.8},{"hour":22.27,"value":-562.2},{"hour":22.32,"value":-575.9},{"hour":22.37,"value":-598.9},{"hour":22.44,"value":-608.1},{"hour":22.52,"value":-612.7},{"hour":22.60,"value":-617.3},{"hour":22.68,"value":-620.0},{"hour":22.75,"value":-626.5},{"hour":22.83,"value":-631.1},{"hour":22.91,"value":-635.7},{"hour":22.99,"value":-644.9},{"hour":23.07,"value":-649.4},{"hour":23.14,"value":-647.6},{"hour":23.22,"value":-654.0},{"hour":23.30,"value":-649.4},{"hour":23.38,"value":-651.3},{"hour":23.45,"value":-647.6},{"hour":23.53,"value":-651.3},{"hour":23.61,"value":-649.4},{"hour":23.69,"value":-651.3},{"hour":23.79,"value":-654.0},{"hour":23.97,"value":-656.8}
    ],
    "vsw_model": [
      {"hour":0,"value":-520},{"hour":10.5,"value":-520},{"hour":10.93,"value":-522.5},{"hour":11.09,"value":-531.5},{"hour":11.20,"value":-541.5},{"hour":11.32,"value":-558.3},{"hour":11.44,"value":-581.3},{"hour":11.55,"value":-612.0},{"hour":11.67,"value":-642.7},{"hour":11.79,"value":-673.3},{"hour":11.90,"value":-700.2},{"hour":12.0,"value":-727.0},{"hour":12.23,"value":-750.0},{"hour":12.47,"value":-769.2},{"hour":12.70,"value":-782.2},{"hour":13.01,"value":-794.5},{"hour":13.48,"value":-799.8},{"hour":13.95,"value":-796.0},{"hour":14.41,"value":-784.5},{"hour":14.88,"value":-773.0},{"hour":15.35,"value":-765.3},{"hour":15.58,"value":-766.9},{"hour":15.74,"value":-780.7},{"hour":15.89,"value":-803.7},{"hour":16.09,"value":-842.0},{"hour":16.28,"value":-872.7},{"hour":16.51,"value":-884.2},{"hour":16.75,"value":-888.0},{"hour":16.98,"value":-880.3},{"hour":17.21,"value":-868.8},{"hour":17.52,"value":-849.7},{"hour":17.99,"value":-828.2},{"hour":18.77,"value":-799.8},{"hour":19.55,"value":-771.5},{"hour":20.33,"value":-742.3},{"hour":21.11,"value":-707.8},{"hour":21.88,"value":-681.0},{"hour":22.66,"value":-654.2},{"hour":23.44,"value":-635.0},{"hour":24,"value":-623.5}
    ],
    "nsw_obs": [
      {"hour":0,"value":0.82},{"hour":0.10,"value":1.04},{"hour":0.26,"value":0.77},{"hour":0.49,"value":0.71},{"hour":0.81,"value":0.65},{"hour":1.12,"value":0.71},{"hour":1.43,"value":0.65},{"hour":1.74,"value":0.77},{"hour":2.05,"value":0.82},{"hour":2.36,"value":0.96},{"hour":2.67,"value":1.04},{"hour":2.99,"value":0.88},{"hour":3.30,"value":0.93},{"hour":3.61,"value":0.77},{"hour":3.92,"value":0.68},{"hour":4.23,"value":0.65},{"hour":4.54,"value":0.71},{"hour":4.85,"value":0.77},{"hour":5.01,"value":1.10},{"hour":5.10,"value":1.32},{"hour":5.17,"value":0.88},{"hour":5.24,"value":1.38},{"hour":5.32,"value":0.96},{"hour":5.42,"value":1.10},{"hour":5.48,"value":0.60},{"hour":5.59,"value":0.88},{"hour":5.67,"value":1.04},{"hour":5.75,"value":1.38},{"hour":5.80,"value":1.79},{"hour":5.85,"value":1.10},{"hour":5.88,"value":1.88},{"hour":5.95,"value":0.96},{"hour":6.02,"value":1.32},{"hour":6.10,"value":0.82},{"hour":6.18,"value":1.15},{"hour":6.24,"value":1.71},{"hour":6.29,"value":0.82},{"hour":6.35,"value":1.10},{"hour":6.41,"value":0.65},{"hour":6.47,"value":1.04},{"hour":6.54,"value":0.82},{"hour":6.60,"value":1.15},{"hour":6.66,"value":0.71},{"hour":6.72,"value":0.21},{"hour":6.77,"value":1.04},{"hour":6.82,"value":0.82},{"hour":6.86,"value":1.24},{"hour":6.91,"value":1.43},{"hour":6.94,"value":2.21},{"hour":6.97,"value":5.27},{"hour":7.00,"value":3.32},{"hour":7.04,"value":1.65},{"hour":7.08,"value":2.77},{"hour":7.13,"value":2.07},{"hour":7.18,"value":3.74},{"hour":7.22,"value":1.79},{"hour":7.27,"value":3.04},{"hour":7.32,"value":1.93},{"hour":7.36,"value":4.02},{"hour":7.41,"value":2.21},{"hour":7.46,"value":2.49},{"hour":7.52,"value":1.93},{"hour":7.58,"value":2.35},{"hour":7.66,"value":2.07},{"hour":7.74,"value":2.21},{"hour":7.81,"value":1.99},{"hour":7.89,"value":2.21},{"hour":7.97,"value":2.07},{"hour":8.05,"value":2.21},{"hour":8.13,"value":1.93},{"hour":8.19,"value":2.21},{"hour":8.24,"value":3.32},{"hour":8.28,"value":2.49},{"hour":8.34,"value":2.90},{"hour":8.41,"value":2.63},{"hour":8.47,"value":3.18},{"hour":8.53,"value":2.77},{"hour":8.59,"value":3.60},{"hour":8.64,"value":5.13},{"hour":8.69,"value":4.15},{"hour":8.75,"value":4.85},{"hour":8.81,"value":3.74},{"hour":8.87,"value":4.71},{"hour":8.94,"value":4.02},{"hour":9.00,"value":4.85},{"hour":9.06,"value":3.88},{"hour":9.12,"value":4.71},{"hour":9.19,"value":3.60},{"hour":9.25,"value":4.43},{"hour":9.31,"value":3.74},{"hour":9.37,"value":3.32},{"hour":9.43,"value":3.60},{"hour":9.50,"value":4.43},{"hour":9.54,"value":5.40},{"hour":9.61,"value":6.10},{"hour":9.67,"value":7.21},{"hour":9.71,"value":6.38},{"hour":9.76,"value":5.54},{"hour":9.82,"value":6.24},{"hour":9.89,"value":5.27},{"hour":9.95,"value":5.82},{"hour":9.99,"value":10.68},{"hour":10.04,"value":6.10},{"hour":10.09,"value":10.40},{"hour":10.14,"value":4.99},{"hour":10.18,"value":12.21},{"hour":10.21,"value":13.6},{"hour":10.24,"value":5.54},{"hour":10.31,"value":3.32},{"hour":10.37,"value":4.71},{"hour":10.42,"value":3.04},{"hour":10.46,"value":5.13},{"hour":10.51,"value":4.57},{"hour":10.56,"value":5.13},{"hour":10.93,"value":3.60},{"hour":11.23,"value":2.77},{"hour":11.27,"value":6.10},{"hour":11.30,"value":12.91},{"hour":11.33,"value":7.21},{"hour":11.38,"value":2.21},{"hour":11.43,"value":3.32},{"hour":11.47,"value":2.49},{"hour":11.52,"value":3.04},{"hour":11.57,"value":2.07},{"hour":11.63,"value":2.21},{"hour":11.71,"value":1.88},{"hour":11.86,"value":1.71},{"hour":12.0,"value":1.60},{"hour":12.23,"value":1.43},{"hour":12.47,"value":1.24},{"hour":12.54,"value":0.96},{"hour":12.62,"value":1.15},{"hour":12.70,"value":0.96},{"hour":12.78,"value":1.38},{"hour":12.86,"value":1.10},{"hour":12.93,"value":1.52},{"hour":13.01,"value":1.04},{"hour":13.09,"value":1.60},{"hour":13.17,"value":1.10},{"hour":13.25,"value":1.43},{"hour":13.32,"value":1.15},{"hour":13.40,"value":1.38},{"hour":13.48,"value":1.24},{"hour":14.57,"value":0.40},{"hour":14.61,"value":1.24},{"hour":14.66,"value":0.82},{"hour":14.72,"value":1.38},{"hour":14.80,"value":0.96},{"hour":14.88,"value":1.52},{"hour":14.94,"value":1.10},{"hour":15.00,"value":1.32},{"hour":15.07,"value":0.68},{"hour":15.13,"value":0.54},{"hour":15.19,"value":0.68},{"hour":15.27,"value":0.40},{"hour":15.35,"value":0.60},{"hour":15.42,"value":0.40},{"hour":15.50,"value":0.54},{"hour":15.58,"value":0.38},{"hour":15.66,"value":0.49},{"hour":15.74,"value":0.32},{"hour":15.81,"value":0.43},{"hour":15.89,"value":0.32},{"hour":16.01,"value":0.49},{"hour":16.09,"value":0.82},{"hour":16.16,"value":1.24},{"hour":16.24,"value":0.82},{"hour":16.30,"value":1.38},{"hour":16.36,"value":0.96},{"hour":16.44,"value":0.82},{"hour":16.51,"value":0.68},{"hour":16.59,"value":0.96},{"hour":16.67,"value":0.60},{"hour":16.75,"value":0.82},{"hour":16.82,"value":0.54},{"hour":16.90,"value":0.68},{"hour":16.98,"value":0.54},{"hour":17.06,"value":0.82},{"hour":17.14,"value":0.68},{"hour":17.21,"value":0.88},{"hour":17.37,"value":0.77},{"hour":17.53,"value":0.96},{"hour":17.68,"value":1.38},{"hour":17.76,"value":1.93},{"hour":17.82,"value":2.21},{"hour":17.88,"value":1.93},{"hour":17.95,"value":2.49},{"hour":17.99,"value":2.07},{"hour":18.04,"value":2.63},{"hour":18.10,"value":3.04},{"hour":18.16,"value":2.21},{"hour":18.23,"value":2.49},{"hour":18.29,"value":1.65},{"hour":18.35,"value":2.07},{"hour":18.41,"value":1.52},{"hour":18.47,"value":2.21},{"hour":18.54,"value":1.65},{"hour":18.60,"value":2.35},{"hour":18.66,"value":1.79},{"hour":18.72,"value":2.07},{"hour":18.79,"value":2.49},{"hour":18.85,"value":2.77},{"hour":18.91,"value":2.21},{"hour":18.97,"value":1.93},{"hour":19.03,"value":2.07},{"hour":19.10,"value":1.65},{"hour":19.16,"value":1.79},{"hour":19.24,"value":1.52},{"hour":19.32,"value":1.65},{"hour":19.39,"value":1.38},{"hour":19.47,"value":1.52},{"hour":19.55,"value":1.24},{"hour":19.63,"value":1.32},{"hour":19.70,"value":1.15},{"hour":19.78,"value":1.24},{"hour":19.86,"value":1.38},{"hour":19.94,"value":1.43},{"hour":20.02,"value":1.32},{"hour":20.09,"value":1.24},{"hour":20.17,"value":1.04},{"hour":20.25,"value":0.82},{"hour":20.33,"value":0.68},{"hour":20.40,"value":0.54},{"hour":20.48,"value":0.60},{"hour":20.64,"value":0.49},{"hour":20.79,"value":0.60},{"hour":20.95,"value":0.54},{"hour":21.11,"value":0.68},{"hour":21.26,"value":0.60},{"hour":21.42,"value":0.82},{"hour":21.57,"value":0.77},{"hour":21.73,"value":0.96},{"hour":21.88,"value":1.10},{"hour":22.04,"value":1.38},{"hour":22.19,"value":1.65},{"hour":22.35,"value":1.93},{"hour":22.40,"value":2.63},{"hour":22.44,"value":1.79},{"hour":22.51,"value":1.65},{"hour":22.58,"value":1.38},{"hour":22.66,"value":1.60},{"hour":22.74,"value":1.24},{"hour":22.82,"value":1.43},{"hour":22.89,"value":1.15},{"hour":22.97,"value":1.32},{"hour":23.05,"value":1.24},{"hour":23.13,"value":1.10},{"hour":23.21,"value":0.54},{"hour":23.28,"value":0.32},{"hour":23.36,"value":0.54},{"hour":23.44,"value":0.40},{"hour":23.52,"value":0.60},{"hour":23.60,"value":0.49},{"hour":23.67,"value":0.68},{"hour":23.79,"value":0.82},{"hour":23.97,"value":0.68}
    ],
    "nsw_model": [
      {"hour":0,"value":4.35},{"hour":3.0,"value":4.30},{"hour":3.2,"value":4.12},{"hour":10.93,"value":4.12},{"hour":11.09,"value":4.25},{"hour":11.32,"value":4.81},{"hour":11.55,"value":6.20},{"hour":11.79,"value":8.51},{"hour":12.0,"value":11.29},{"hour":12.23,"value":14.99},{"hour":12.47,"value":18.23},{"hour":12.70,"value":20.78},{"hour":12.93,"value":22.17},{"hour":13.17,"value":22.4},{"hour":13.40,"value":22.17},{"hour":13.63,"value":21.24},{"hour":13.87,"value":19.62},{"hour":14.10,"value":17.31},{"hour":14.33,"value":14.53},{"hour":14.57,"value":11.29},{"hour":14.80,"value":8.05},{"hour":15.03,"value":5.27},{"hour":15.27,"value":3.19},{"hour":15.50,"value":1.80},{"hour":15.74,"value":1.01},{"hour":15.97,"value":0.55},{"hour":16.28,"value":0.37},{"hour":16.82,"value":0.27},{"hour":17.99,"value":0.18},{"hour":19.55,"value":0.13},{"hour":24,"value":0.0884}
    ]
  },
  "vconcat": [
    {
      "width": 1604, "height": 160,
      "layer": [
        {"mark": {"type": "rule", "color": "#a85a5a", "strokeWidth": 1.3},
         "encoding": {"y": {"datum": 0.5, "type": "quantitative", "scale": {"domain": [0, 1]},
           "axis": {"ticks": false, "title": "Bz", "titleAngle": 0, "titleFont": "Liberation Sans", "titleFontSize": 44, "titleFontWeight": "normal", "titleColor": "#000", "titleAlign": "left", "titleBaseline": "alphabetic", "titleX": -144, "titleY": 80}}}},
        {"mark": {"type": "rule", "color": "#a85a5a", "strokeWidth": 1.3},
         "encoding": {"x": {"datum": 12, "type": "quantitative", "scale": {"domain": [0, 24]},
           "axis": {"orient": "top", "values": [1,2,3,4,5,6,7,8,9,10,11,12,13,14,15,16,17,18,19,20,21,22,23]}}}},
        {"data": {"name": "bz_obs"}, "mark": {"type": "line", "color": "#000", "strokeWidth": 1.9, "clip": true},
         "encoding": {"x": {"field": "hour", "type": "quantitative", "scale": {"domain": [0, 24]},
           "axis": {"orient": "bottom", "values": [1,2,3,4,5,6,7,8,9,10,11,12,13,14,15,16,17,18,19,20,21,22,23]}},
           "y": {"field": "value", "type": "quantitative", "scale": {"domain": [-16.7, 16.7]}, "axis": null}}},
        {"data": {"name": "bz_model"}, "mark": {"type": "line", "color": "#ff2828", "strokeWidth": 2, "interpolate": "monotone", "clip": true},
         "encoding": {"x": {"field": "hour", "type": "quantitative", "scale": {"domain": [0, 24]}, "axis": null},
           "y": {"field": "value", "type": "quantitative", "scale": {"domain": [-2.87, 2.87]}, "axis": null}}},
        {"data": {"name": "captions"}, "transform": [{"filter": "datum.panel === 'Bz'"}],
         "mark": {"type": "text", "align": "left", "baseline": "alphabetic", "dy": 24, "font": "Liberation Serif", "fontSize": 23},
         "encoding": {"x": {"field": "hour", "type": "quantitative", "scale": {"domain": [0, 24]}, "axis": null},
           "y": {"datum": 0, "type": "quantitative", "scale": {"domain": [0, 1]}, "axis": null},
           "text": {"field": "label"},
           "color": {"field": "series", "type": "nominal", "scale": {"domain": ["observed", "model"], "range": ["#000000", "#f01e1e"]}, "legend": null}}}
      ],
      "resolve": {"scale": {"y": "independent"}, "axis": {"x": "independent", "y": "independent"}}
    },
    {
      "width": 1604, "height": 160,
      "layer": [
        {"mark": {"type": "rule", "color": "#a85a5a", "strokeWidth": 1.3},
         "encoding": {"y": {"datum": 0.5, "type": "quantitative", "scale": {"domain": [0, 1]},
           "axis": {"ticks": false, "title": "By", "titleAngle": 0, "titleFont": "Liberation Sans", "titleFontSize": 44, "titleFontWeight": "normal", "titleColor": "#000", "titleAlign": "left", "titleBaseline": "alphabetic", "titleX": -144, "titleY": 93}}}},
        {"mark": {"type": "rule", "color": "#a85a5a", "strokeWidth": 1.3},
         "encoding": {"x": {"datum": 12, "type": "quantitative", "scale": {"domain": [0, 24]},
           "axis": {"orient": "top", "values": [1,2,3,4,5,6,7,8,9,10,11,12,13,14,15,16,17,18,19,20,21,22,23]}}}},
        {"data": {"name": "by_obs"}, "mark": {"type": "line", "color": "#000", "strokeWidth": 1.9, "clip": true},
         "encoding": {"x": {"field": "hour", "type": "quantitative", "scale": {"domain": [0, 24]},
           "axis": {"orient": "bottom", "values": [1,2,3,4,5,6,7,8,9,10,11,12,13,14,15,16,17,18,19,20,21,22,23]}},
           "y": {"field": "value", "type": "quantitative", "scale": {"domain": [-19.6, 19.6]}, "axis": null}}},
        {"data": {"name": "by_model"}, "mark": {"type": "line", "color": "#ff2828", "strokeWidth": 2, "interpolate": "monotone", "clip": true},
         "encoding": {"x": {"field": "hour", "type": "quantitative", "scale": {"domain": [0, 24]}, "axis": null},
           "y": {"field": "value", "type": "quantitative", "scale": {"domain": [-8.67, 8.67]}, "axis": null}}},
        {"data": {"name": "captions"}, "transform": [{"filter": "datum.panel === 'By'"}],
         "mark": {"type": "text", "align": "left", "baseline": "alphabetic", "dy": 24, "font": "Liberation Serif", "fontSize": 23},
         "encoding": {"x": {"field": "hour", "type": "quantitative", "scale": {"domain": [0, 24]}, "axis": null},
           "y": {"datum": 0, "type": "quantitative", "scale": {"domain": [0, 1]}, "axis": null},
           "text": {"field": "label"},
           "color": {"field": "series", "type": "nominal", "scale": {"domain": ["observed", "model"], "range": ["#000000", "#f01e1e"]}, "legend": null}}}
      ],
      "resolve": {"scale": {"y": "independent"}, "axis": {"x": "independent", "y": "independent"}}
    },
    {
      "width": 1604, "height": 160,
      "layer": [
        {"mark": {"type": "rule", "color": "#a85a5a", "strokeWidth": 1.3},
         "encoding": {"y": {"datum": 0.5, "type": "quantitative", "scale": {"domain": [0, 1]},
           "axis": {"ticks": false, "title": "Bx", "titleAngle": 0, "titleFont": "Liberation Sans", "titleFontSize": 44, "titleFontWeight": "normal", "titleColor": "#000", "titleAlign": "left", "titleBaseline": "alphabetic", "titleX": -144, "titleY": 89}}}},
        {"mark": {"type": "rule", "color": "#a85a5a", "strokeWidth": 1.3},
         "encoding": {"x": {"datum": 12, "type": "quantitative", "scale": {"domain": [0, 24]},
           "axis": {"orient": "top", "values": [1,2,3,4,5,6,7,8,9,10,11,12,13,14,15,16,17,18,19,20,21,22,23]}}}},
        {"data": {"name": "bx_obs"}, "mark": {"type": "line", "color": "#000", "strokeWidth": 1.9, "clip": true},
         "encoding": {"x": {"field": "hour", "type": "quantitative", "scale": {"domain": [0, 24]},
           "axis": {"orient": "bottom", "values": [1,2,3,4,5,6,7,8,9,10,11,12,13,14,15,16,17,18,19,20,21,22,23]}},
           "y": {"field": "value", "type": "quantitative", "scale": {"domain": [-12.8, 12.8]}, "axis": null}}},
        {"data": {"name": "bx_model"}, "mark": {"type": "line", "color": "#ff2828", "strokeWidth": 2, "interpolate": "monotone", "clip": true},
         "encoding": {"x": {"field": "hour", "type": "quantitative", "scale": {"domain": [0, 24]}, "axis": null},
           "y": {"field": "value", "type": "quantitative", "scale": {"domain": [-2.36, 2.36]}, "axis": null}}},
        {"data": {"name": "captions"}, "transform": [{"filter": "datum.panel === 'Bx'"}],
         "mark": {"type": "text", "align": "left", "baseline": "alphabetic", "dy": 24, "font": "Liberation Serif", "fontSize": 23},
         "encoding": {"x": {"field": "hour", "type": "quantitative", "scale": {"domain": [0, 24]}, "axis": null},
           "y": {"datum": 0, "type": "quantitative", "scale": {"domain": [0, 1]}, "axis": null},
           "text": {"field": "label"},
           "color": {"field": "series", "type": "nominal", "scale": {"domain": ["observed", "model"], "range": ["#000000", "#f01e1e"]}, "legend": null}}}
      ],
      "resolve": {"scale": {"y": "independent"}, "axis": {"x": "independent", "y": "independent"}}
    },
    {
      "width": 1604, "height": 160,
      "layer": [
        {"mark": {"type": "rule", "color": "#a85a5a", "strokeWidth": 1.3},
         "encoding": {"y": {"datum": 0.5, "type": "quantitative", "scale": {"domain": [0, 1]},
           "axis": {"ticks": false, "title": "Dp", "titleAngle": 0, "titleFont": "Liberation Sans", "titleFontSize": 44, "titleFontWeight": "normal", "titleColor": "#000", "titleAlign": "left", "titleBaseline": "alphabetic", "titleX": -153, "titleY": 100}}}},
        {"mark": {"type": "rule", "color": "#a85a5a", "strokeWidth": 1.3},
         "encoding": {"x": {"datum": 12, "type": "quantitative", "scale": {"domain": [0, 24]},
           "axis": {"orient": "top", "values": [1,2,3,4,5,6,7,8,9,10,11,12,13,14,15,16,17,18,19,20,21,22,23]}}}},
        {"data": {"name": "dp_obs"}, "mark": {"type": "line", "color": "#000", "strokeWidth": 1.9, "clip": true},
         "encoding": {"x": {"field": "hour", "type": "quantitative", "scale": {"domain": [0, 24]},
           "axis": {"orient": "bottom", "values": [1,2,3,4,5,6,7,8,9,10,11,12,13,14,15,16,17,18,19,20,21,22,23]}},
           "y": {"field": "value", "type": "quantitative", "scale": {"domain": [0.145, 6.73], "zero": false}, "axis": null}}},
        {"data": {"name": "dp_model"}, "mark": {"type": "line", "color": "#ff2828", "strokeWidth": 2, "interpolate": "monotone", "clip": true},
         "encoding": {"x": {"field": "hour", "type": "quantitative", "scale": {"domain": [0, 24]}, "axis": null},
           "y": {"field": "value", "type": "quantitative", "scale": {"domain": [0.0708, 23.9], "zero": false}, "axis": null}}},
        {"data": {"name": "captions"}, "transform": [{"filter": "datum.panel === 'Dp'"}],
         "mark": {"type": "text", "align": "left", "baseline": "alphabetic", "dy": 24, "font": "Liberation Serif", "fontSize": 23},
         "encoding": {"x": {"field": "hour", "type": "quantitative", "scale": {"domain": [0, 24]}, "axis": null},
           "y": {"datum": 0, "type": "quantitative", "scale": {"domain": [0, 1]}, "axis": null},
           "text": {"field": "label"},
           "color": {"field": "series", "type": "nominal", "scale": {"domain": ["observed", "model"], "range": ["#000000", "#f01e1e"]}, "legend": null}}}
      ],
      "resolve": {"scale": {"y": "independent"}, "axis": {"x": "independent", "y": "independent"}}
    },
    {
      "width": 1604, "height": 160,
      "layer": [
        {"mark": {"type": "rule", "color": "#a85a5a", "strokeWidth": 1.3},
         "encoding": {"y": {"datum": 0.5, "type": "quantitative", "scale": {"domain": [0, 1]},
           "axis": {"ticks": false, "title": "Vsw", "titleAngle": 0, "titleFont": "Liberation Sans", "titleFontSize": 44, "titleFontWeight": "normal", "titleColor": "#000", "titleAlign": "left", "titleBaseline": "alphabetic", "titleX": -156, "titleY": 125}}}},
        {"mark": {"type": "rule", "color": "#a85a5a", "strokeWidth": 1.3},
         "encoding": {"x": {"datum": 12, "type": "quantitative", "scale": {"domain": [0, 24]},
           "axis": {"orient": "top", "values": [1,2,3,4,5,6,7,8,9,10,11,12,13,14,15,16,17,18,19,20,21,22,23]}}}},
        {"data": {"name": "vsw_obs"}, "mark": {"type": "line", "color": "#000", "strokeWidth": 1.9, "clip": true},
         "encoding": {"x": {"field": "hour", "type": "quantitative", "scale": {"domain": [0, 24]},
           "axis": {"orient": "bottom", "values": [1,2,3,4,5,6,7,8,9,10,11,12,13,14,15,16,17,18,19,20,21,22,23]}},
           "y": {"field": "value", "type": "quantitative", "scale": {"domain": [-971, -530], "zero": false}, "axis": null}}},
        {"data": {"name": "vsw_model"}, "mark": {"type": "line", "color": "#ff2828", "strokeWidth": 2, "interpolate": "monotone", "clip": true},
         "encoding": {"x": {"field": "hour", "type": "quantitative", "scale": {"domain": [0, 24]}, "axis": null},
           "y": {"field": "value", "type": "quantitative", "scale": {"domain": [-888, -520], "zero": false}, "axis": null}}},
        {"data": {"name": "captions"}, "transform": [{"filter": "datum.panel === 'Vsw'"}],
         "mark": {"type": "text", "align": "left", "baseline": "alphabetic", "dy": 24, "font": "Liberation Serif", "fontSize": 23},
         "encoding": {"x": {"field": "hour", "type": "quantitative", "scale": {"domain": [0, 24]}, "axis": null},
           "y": {"datum": 0, "type": "quantitative", "scale": {"domain": [0, 1]}, "axis": null},
           "text": {"field": "label"},
           "color": {"field": "series", "type": "nominal", "scale": {"domain": ["observed", "model"], "range": ["#000000", "#f01e1e"]}, "legend": null}}}
      ],
      "resolve": {"scale": {"y": "independent"}, "axis": {"x": "independent", "y": "independent"}}
    },
    {
      "width": 1604, "height": 160,
      "layer": [
        {"mark": {"type": "rule", "color": "#a85a5a", "strokeWidth": 1.3},
         "encoding": {"y": {"datum": 0.5, "type": "quantitative", "scale": {"domain": [0, 1]},
           "axis": {"ticks": false, "title": "Nsw", "titleAngle": 0, "titleFont": "Liberation Sans", "titleFontSize": 44, "titleFontWeight": "normal", "titleColor": "#000", "titleAlign": "left", "titleBaseline": "alphabetic", "titleX": -156, "titleY": 121}}}},
        {"mark": {"type": "rule", "color": "#a85a5a", "strokeWidth": 1.3},
         "encoding": {"x": {"datum": 12, "type": "quantitative", "scale": {"domain": [0, 24]},
           "axis": {"orient": "top", "values": [1,2,3,4,5,6,7,8,9,10,11,12,13,14,15,16,17,18,19,20,21,22,23]}}}},
        {"data": {"name": "nsw_obs"}, "mark": {"type": "line", "color": "#000", "strokeWidth": 1.9, "clip": true},
         "encoding": {"x": {"field": "hour", "type": "quantitative", "scale": {"domain": [0, 24]},
           "axis": {"orient": "bottom", "values": [1,2,3,4,5,6,7,8,9,10,11,12,13,14,15,16,17,18,19,20,21,22,23]}},
           "y": {"field": "value", "type": "quantitative", "scale": {"domain": [0.21, 13.6], "zero": false}, "axis": null}}},
        {"data": {"name": "nsw_model"}, "mark": {"type": "line", "color": "#ff2828", "strokeWidth": 2, "interpolate": "monotone", "clip": true},
         "encoding": {"x": {"field": "hour", "type": "quantitative", "scale": {"domain": [0, 24]}, "axis": null},
           "y": {"field": "value", "type": "quantitative", "scale": {"domain": [0.0884, 22.4], "zero": false}, "axis": null}}},
        {"data": {"name": "captions"}, "transform": [{"filter": "datum.panel === 'Nsw'"}],
         "mark": {"type": "text", "align": "left", "baseline": "alphabetic", "dy": 24, "font": "Liberation Serif", "fontSize": 23},
         "encoding": {"x": {"field": "hour", "type": "quantitative", "scale": {"domain": [0, 24]}, "axis": null},
           "y": {"datum": 0, "type": "quantitative", "scale": {"domain": [0, 1]}, "axis": null},
           "text": {"field": "label"},
           "color": {"field": "series", "type": "nominal", "scale": {"domain": ["observed", "model"], "range": ["#000000", "#f01e1e"]}, "legend": null}}}
      ],
      "resolve": {"scale": {"y": "independent"}, "axis": {"x": "independent", "y": "independent"}}
    }
  ],
  "spacing": 41,
  "bounds": "flush",
  "resolve": {"scale": {"x": "independent", "y": "independent", "color": "independent"}}
}
